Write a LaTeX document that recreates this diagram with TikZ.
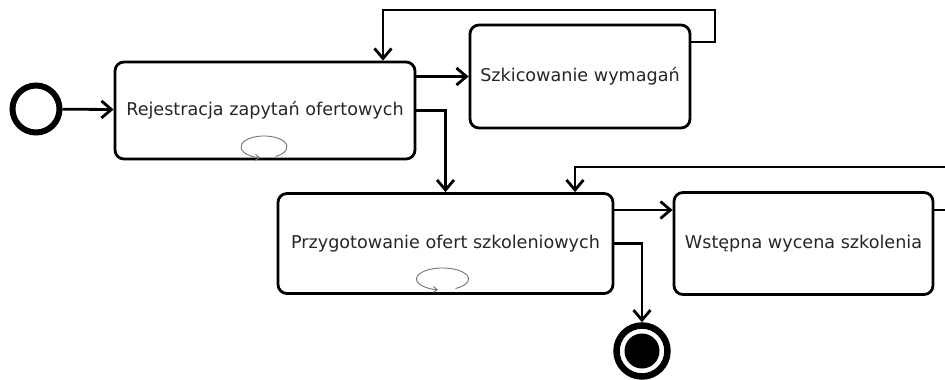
\documentclass[tikz,border=0pt]{standalone}
\usepackage{fontspec}
\setmainfont{DejaVu Sans}
\usetikzlibrary{arrows.meta}
\begin{document}
\begin{tikzpicture}[x=1pt,y=-1pt,
  action/.style={draw,line width=2.8pt,rounded corners=9pt,inner sep=0pt,
    font=\fontsize{17.6}{21}\selectfont,text=black!85},
  arr/.style={line width=2.8pt,-{Straight Barb[length=10pt,width=17pt,line width=2.8pt]}},
  selfloop/.style={draw=black!55,line width=0.9pt,-{Straight Barb[length=4pt,width=6pt]}}]
\useasboundingbox (0,0) rectangle (945,380);
\clip (0,0) rectangle (945,380);

% initial and final states
\node (start) [circle,draw,line width=6pt,minimum size=47pt,inner sep=0pt] at (36,109) {};
\node (end) [circle,draw,line width=6.5pt,minimum size=51pt,inner sep=0pt] at (642,351) {};
\fill (end.center) circle[radius=17.5];

% actions
\node (box1) [action,minimum width=300pt,minimum height=97pt] at (265,110.5) {Rejestracja zapytań ofertowych};
\node (box2) [action,minimum width=220pt,minimum height=103pt] at (580,76.5) {Szkicowanie wymagań};
\node (box3) [action,minimum width=335pt,minimum height=100pt] at (445.5,243.5) {Przygotowanie ofert szkoleniowych};
\node (box4) [action,minimum width=259pt,minimum height=102pt] at (803.5,243.5) {Wstępna wycena szkolenia};

% self-loop markers
\draw[selfloop] (275.5,156.5) arc[start angle=60,end angle=-260,x radius=23,y radius=11];
\draw[selfloop] (455.5,288.5) arc[start angle=60,end angle=-260,x radius=26,y radius=11];

% turning points of the return flows
\coordinate (loopA) at (715,10);
\coordinate (loopB) at (960,167);

% transitions
\draw[arr] (start) -- (box1);
\draw[arr] (box1.east |- box2.west) -- (box2.west);
\draw[arr] ([yshift=34.5pt]box2.east) -| (loopA) -| ([xshift=118pt]box1.north);
\draw[arr] (box1.east) -| (box3.north);
\draw[arr] ([yshift=33.5pt]box3.east) -- ([yshift=33.5pt]box4.west);
\draw[arr] ([yshift=33.5pt]box4.east) -| (loopB) -| ([xshift=129.5pt]box3.north);
\draw[arr] (box3.east) -| (end.north);
\end{tikzpicture}
\end{document}
